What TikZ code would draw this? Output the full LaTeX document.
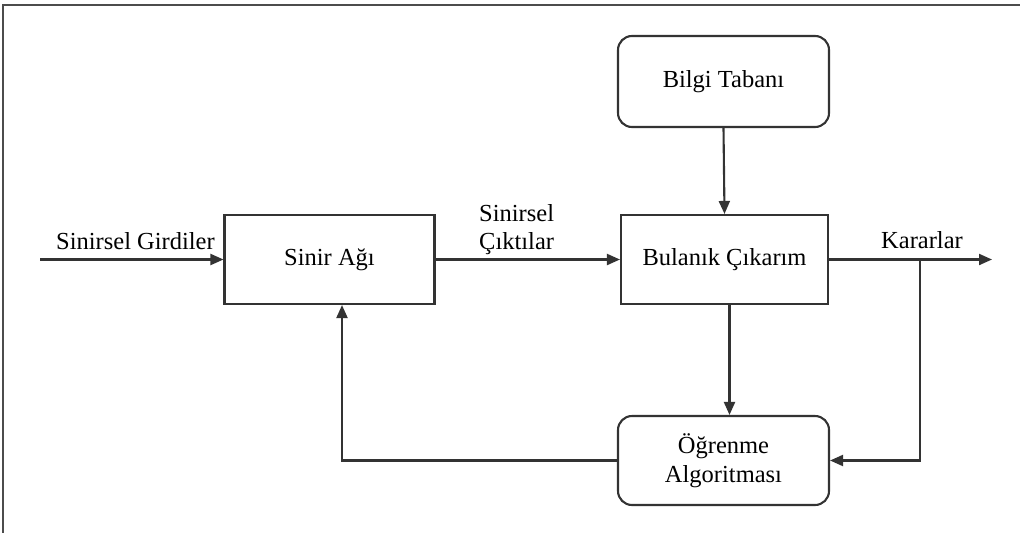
\documentclass[tikz,border=0pt]{standalone}
\usepackage{fontspec}
\setmainfont{Liberation Serif}
\usetikzlibrary{arrows.meta, calc, positioning}

\begin{document}
\begin{tikzpicture}[
        x=1pt, y=-1pt,
        every node/.style={font=\fontsize{24.5}{29}\selectfont},
        line/.style={draw=black!80, line width=2.1pt},
        arr/.style={line, -{Triangle[length=13pt, width=11pt]}},
        blockbox/.style={line, minimum width=210pt, minimum height=89pt, inner sep=0pt},
        roundbox/.style={blockbox, rounded corners=14pt},
        lbl/.style={inner sep=0pt, align=left}
    ]
        % Picture frame (only top and left edges show)
        \useasboundingbox (0,0) rectangle (1020,533);
        \draw[line, draw=black!70] (1020,5) -- (3,5) -- (3,533);

        % Blocks
        \node[blockbox] (sinir) at (329.5,259.5) {Sinir Ağı};
        \node[blockbox, minimum width=207pt] (bulanik) at (724.5,259.5) {Bulanık Çıkarım};
        \node[roundbox, minimum width=211pt, minimum height=91pt] (bilgi) at (723.5,81.5) {Bilgi Tabanı};
        \node[roundbox, minimum width=211pt, minimum height=89pt, align=center] (ogrenme) at (723.5,460.5)
            {Öğrenme\\Algoritması};

        % Free ends of the main line
        \coordinate (girdi) at (40,259.5);
        \coordinate (cikis) at (992,259.5);
        \coordinate (dal) at (920,259.5);

        % Main signal path
        \draw[arr] (girdi) -- (sinir.west);
        \draw[arr] (sinir.east) -- (bulanik.west);
        \draw[arr] (bulanik.east) -- (cikis);
        \draw[arr] (bilgi.south) -- (bulanik.north);

        % Learning loop
        \draw[arr] ($(bulanik.south)+(5,0)$) -- ($(ogrenme.north)+(6,0)$);
        \draw[arr] (dal) |- (ogrenme.east);
        \draw[arr] (ogrenme.west) -| ($(sinir.south)+(12.5,0)$);

        % Line labels
        \node[lbl, anchor=base west] (girdiler) at (56,249) {Sinirsel Girdiler};
        \node[lbl, anchor=base west] (sinirsel) at (479,221) {Sinirsel};
        \node[lbl, anchor=base west] (ciktilar) at (479,249) {Çıktılar};
        \node[lbl, anchor=base] (kararlar) at (922,248) {Kararlar};
    \end{tikzpicture}
\end{document}
